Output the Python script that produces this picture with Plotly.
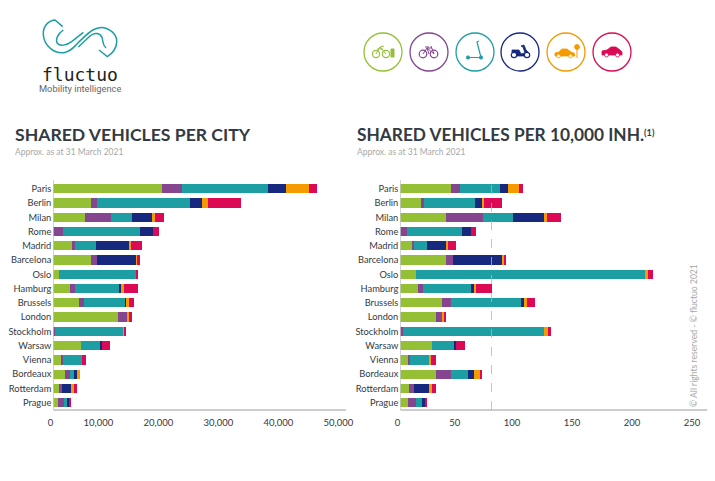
import plotly.graph_objects as go

W, H = 715, 481

cities = ["Paris", "Berlin", "Milan", "Rome", "Madrid", "Barcelona", "Oslo", "Hamburg",
          "Brussels", "London", "Stockholm", "Warsaw", "Vienna", "Bordeaux", "Rotterdam", "Prague"]

series_names = ["Bike (docked)", "Bike (free-floating)", "Kick scooter", "Moped", "Car (station-based)", "Car (free-floating)"]
colors = ["#95c035", "#85458f", "#1d9ea3", "#16297f", "#f59a00", "#dc0a55"]

city_green = [18100, 6330, 5330, 0, 3330, 6280, 940, 2780, 4330, 10780, 0, 4610, 1440, 2000, 940, 830]
city_purple = [3390, 1000, 4280, 1610, 220, 1000, 0, 780, 780, 1500, 280, 0, 170, 780, 500, 940]
city_teal = [14220, 15500, 3500, 12780, 3560, 0, 12780, 7390, 6890, 0, 11440, 3330, 3170, 830, 0, 670]
city_navy = [3050, 2000, 3500, 2170, 5500, 6670, 0, 500, 330, 0, 0, 220, 0, 330, 1670, 280]
city_orange = [3830, 890, 330, 0, 390, 170, 0, 280, 280, 500, 220, 0, 0, 440, 280, 0]
city_red = [1390, 5560, 1560, 1060, 1830, 330, 390, 2390, 780, 330, 220, 1220, 720, 0, 500, 220]

inh_green = [42.2, 16.9, 38.1, 0, 10.6, 38.1, 13.1, 15, 35, 30, 0, 26.1, 7.2, 30, 6.9, 6.1]
inh_purple = [7.5, 2.8, 30.8, 5.8, 0.6, 5.8, 0, 3.9, 7.2, 5, 1.9, 0, 0.8, 12.2, 4.2, 6.9]
inh_teal = [33.3, 42.5, 25, 45.3, 11.1, 0, 191.1, 40, 58.1, 0, 118.1, 18.9, 16.9, 13.9, 0, 5]
inh_navy = [6.9, 5.8, 26.1, 7.8, 16.7, 40.8, 0, 3.3, 2.8, 0, 0, 1.7, 0, 5, 12.8, 3.1]
inh_orange = [8.9, 1.9, 2.2, 0, 1.1, 1.7, 2.2, 0.8, 2.2, 2.2, 3.1, 0, 1.1, 6.1, 2.2, 0]
inh_red = [3.3, 15, 11.9, 4.2, 6.1, 1.7, 3.9, 13.1, 6.9, 0.8, 2.5, 7.5, 3.9, 0.8, 3.9, 1.1]

average_line = 76
left_ticks = [0, 10000, 20000, 30000, 40000, 50000]
right_ticks = [0, 50, 100, 150, 200, 250]

TEXT = "#333a42"
GRID = "#bdbdbd"


def X(p):
    return p / W


def Y(p):
    return 1 - p / H


def path(s, scale=1.0, ox=0.0, oy=0.0):
    """SVG path given in pixel coordinates -> paper coordinates."""
    out = []
    toks = s.split()
    is_x = True
    for t in toks:
        if t.isalpha():
            out.append(t)
            is_x = True
        else:
            v = float(t) * scale
            out.append(f"{X(v + ox):.5f}" if is_x else f"{Y(v + oy):.5f}")
            is_x = not is_x
    return " ".join(out)


fig = go.Figure()
for name, col, vals in zip(series_names, colors,
                           [city_green, city_purple, city_teal, city_navy, city_orange, city_red]):
    fig.add_bar(y=cities, x=vals, name=name, orientation="h", marker_color=col,
                marker_line_width=0, xaxis="x", yaxis="y", showlegend=False)
for name, col, vals in zip(series_names, colors,
                           [inh_green, inh_purple, inh_teal, inh_navy, inh_orange, inh_red]):
    fig.add_bar(y=cities, x=vals, name=name, orientation="h", marker_color=col,
                marker_line_width=0, xaxis="x2", yaxis="y2", showlegend=False)

shapes = []
annots = []


def line_path(d, col, width=1.2, fill=None, scale=1.0, ox=0.0, oy=0.0):
    s = dict(type="path", xref="paper", yref="paper", path=path(d, scale, ox, oy),
             line=dict(color=col, width=width))
    if fill:
        s["fillcolor"] = fill
    shapes.append(s)


def circle(cx, cy, r, col, width=1.3, fill=None):
    s = dict(type="circle", xref="paper", yref="paper", x0=X(cx - r), x1=X(cx + r),
             y0=Y(cy + r), y1=Y(cy - r), line=dict(color=col, width=width))
    if fill:
        s["fillcolor"] = fill
    shapes.append(s)


# axis lines
for xr, x_end in (("x", 48800), ("x2", 256)):
    shapes.append(dict(type="line", xref=xr, yref="paper", x0=0, x1=x_end, y0=Y(410), y1=Y(410),
                       line=dict(color=GRID, width=1.3)))
    shapes.append(dict(type="line", xref=xr, yref="paper", x0=0, x1=0, y0=Y(410), y1=Y(180),
                       line=dict(color=GRID, width=1.3)))
shapes.append(dict(type="line", xref="x2", yref="paper", x0=average_line, x1=average_line,
                   y0=Y(410), y1=Y(178), line=dict(color="#b5b5b5", width=0.8, dash="dash"), layer="above"))

# logo
LOGO = "#1d9ea3"
line_path("M 188 80 L 165 60 C 140 62 128 85 130 105 C 133 140 165 162 192 158 C 218 154 228 132 248 115 "
          "C 268 96 288 78 312 83 C 338 90 352 108 350 128 C 348 150 335 162 322 170 L 297 150",
          LOGO, 1.5, scale=1 / 3)
line_path("M 190 90 C 175 100 165 118 172 130 C 180 140 200 136 215 125 L 250 97",
          LOGO, 1.5, scale=1 / 3)
line_path("M 235 141 L 270 108 C 285 95 300 100 306 112 C 310 124 306 133 318 144",
          LOGO, 1.5, scale=1 / 3)

# icons
centers = [383, 429, 475, 520, 566, 612]
cy = 52
for cx, col in zip(centers, colors):
    circle(cx, cy, 19, col)

# bike (green)
c = colors[0]
circle(376, 54, 3.6, c, 1.2)
circle(386, 54, 3.6, c, 1.2)
line_path("M 376 54 L 380 47 L 386 54 M 380 47 L 384 46 M 377 49 L 383 49", c, 1)
line_path("M 391 49 L 394 49 L 394 57 L 391 57 Z", c, 1, fill=c)
# bike (purple)
c = colors[1]
circle(423, 54, 3.8, c, 1.2)
circle(434, 54, 3.8, c, 1.2)
line_path("M 423 54 L 427 48 L 434 54 M 427 48 L 432 48 M 431 46 L 434 54 M 425 47 L 429 47 M 429 54 L 427 48", c, 1)
# kick scooter
c = colors[2]
circle(468, 57.5, 1.6, c, 1, fill=c)
circle(481, 57.5, 1.6, c, 1, fill=c)
line_path("M 468 57.5 L 481 57.5 L 477 42 L 479 41", c, 1.2)
# moped
c = colors[3]
line_path("M 512 53 L 512 50 L 519 50 L 521 54 L 525 53 L 523 47 L 521 46 L 524 45 L 526 50 L 530 54 L 525 56 L 517 56 Z",
          c, 0.8, fill=c)
circle(514, 55, 2.7, c, 1.2, fill="white")
circle(527, 55, 2.7, c, 1.2, fill="white")
# orange car and stop sign
c = colors[4]
line_path("M 555 56 L 555 53 L 559 52 L 562 49 L 567 49 L 571 52 L 574 53 L 575 56 Z", c, 0.8, fill=c)
circle(558.5, 56, 1.8, c, 0.8, fill="white")
circle(570.5, 56, 1.8, c, 0.8, fill="white")
circle(577, 47, 2.4, c, 1, fill=c)
line_path("M 577 49 L 577 58", c, 1)
# red car
c = colors[5]
line_path("M 602 55 L 602 51 L 607 50 L 611 47 L 616 47 L 620 50 L 622 52 L 622 55 Z", c, 0.8, fill=c)
circle(606.5, 55, 2, c, 0.8, fill="white")
circle(617.5, 55, 2, c, 0.8, fill="white")


def text(x, y, s, size, col, family="Lato", anchor="left", angle=0, height=None):
    a = dict(xref="paper", yref="paper", x=X(x), y=Y(y), text=s, showarrow=False,
             xanchor=anchor, yanchor="middle", textangle=angle, borderpad=0, borderwidth=0,
             font=dict(size=size, color=col, family=family))
    if height:
        a["height"] = height
    annots.append(a)


text(80, 74, "fluctuo", 18, "#222222", "DejaVu Sans Mono", "center", height=15)
text(80, 88, "Mobility intelligence", 9.3, "#666666", "Roboto", "center", height=11)
text(14.5, 134, "<b>SHARED VEHICLES PER CITY</b>", 17.6, TEXT, "Lato")
text(15, 152, "Approx. as at 31 March 2021", 8.5, "#a8a8a8", "Lato")
text(356.5, 134, "<b>SHARED VEHICLES PER 10,000 INH.</b><span style='font-size:13px'><sup><b>(1)</b></sup></span>", 17.3, TEXT, "Lato")
text(357, 152, "Approx. as at 31 March 2021", 8.5, "#a8a8a8", "Lato")
text(694, 336, "© All rights reserved - © fluctuo 2021", 8.6, "#a8a8a8", "Lato", "center", -90)

axis_y = dict(type="category", categoryorder="array", categoryarray=cities, autorange="reversed",
              showgrid=False, zeroline=False, showline=False, ticks="",
              tickfont=dict(size=9.3, color=TEXT, family="Lato"), ticklabelstandoff=1,
              domain=[Y(409.8), Y(181.6)])

fig.update_layout(
    width=W, height=H, barmode="stack", bargap=0.35, plot_bgcolor="white", paper_bgcolor="white",
    margin=dict(l=0, r=0, t=0, b=0), showlegend=False,
    shapes=shapes, annotations=annots,
    xaxis=dict(domain=[X(53.3), X(353.3)], range=[0, 50000], tickvals=left_ticks, tickformat=",d",
               showgrid=False, zeroline=False, showline=False, ticks="", ticklabelposition="outside left",
               ticklabelstandoff=6, tickfont=dict(size=9.5, color=TEXT, family="Lato"), anchor="y"),
    yaxis=axis_y,
    xaxis2=dict(domain=[X(400.3), X(707.5)], range=[0, 256], tickvals=right_ticks,
                showgrid=False, zeroline=False, showline=False, ticks="", ticklabelposition="outside left",
                ticklabelstandoff=6, tickfont=dict(size=9.5, color=TEXT, family="Lato"), anchor="y2"),
    yaxis2=dict(axis_y, anchor="x2"),
)
fig.update_layout(yaxis=dict(anchor="x"), xaxis=dict(automargin=False), xaxis2=dict(automargin=False))
fig.write_html("out.html", config={"displayModeBar": False},
               post_script="document.body.style.margin='0';")
